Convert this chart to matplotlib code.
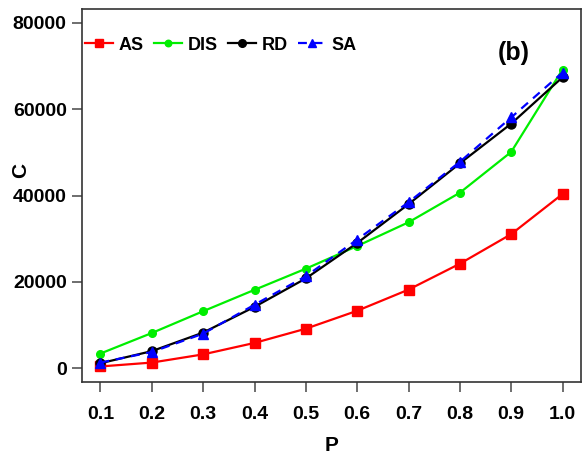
import matplotlib
matplotlib.use("Agg")
import matplotlib.pyplot as plt

P = [0.1, 0.2, 0.3, 0.4, 0.5, 0.6, 0.7, 0.8, 0.9, 1.0]
AS = [400, 1300, 3200, 5850, 9150, 13300, 18200, 24200, 31050, 40350]
DIS = [3400, 8150, 13200, 18150, 23050, 28300, 33800, 40650, 50100, 69200]
RD = [1150, 3950, 8250, 14200, 20800, 29000, 38000, 47450, 56650, 67400]
SA = [1300, 3750, 8000, 14700, 21300, 29800, 38450, 47800, 58100, 68500]
xticks = [0.1, 0.2, 0.3, 0.4, 0.5, 0.6, 0.7, 0.8, 0.9, 1.0]
xticklabels = ["0.1", "0.2", "0.3", "0.4", "0.5", "0.6", "0.7", "0.8", "0.9", "1.0"]
yticks = [0, 20000, 40000, 60000, 80000]

plt.rcParams['font.family'] = ['Liberation Sans', 'DejaVu Sans']
plt.rcParams['font.weight'] = 'bold'

fig = plt.figure(figsize=(5.87, 4.54), dpi=100)
ax = fig.add_axes([0.1397, 0.1586, 0.8501, 0.8214])

ax.plot(P, AS, color='#ff0000', lw=1.6, marker='s', ms=7.5, label='AS')
ax.plot(P, DIS, color='#00ee00', lw=1.6, marker='o', ms=5.5, label='DIS')
ax.plot(P, RD, color='black', lw=1.6, marker='o', ms=6.5, label='RD')
ax.plot(P, SA, color='#0000ff', lw=1.6, ls=(0, (4, 3)), marker='^', ms=7.5, label='SA')

ax.set_xlim(0.064, 1.036)
ax.set_ylim(-3200, 83200)
ax.set_xticks(xticks)
ax.set_xticklabels(xticklabels)
ax.set_yticks(yticks)
ax.tick_params(direction='out', length=7, width=1.2, color='#555555',
               labelsize=14)
ax.tick_params(axis='x', pad=10)
ax.tick_params(axis='y', pad=4)
for lab in ax.get_xticklabels() + ax.get_yticklabels():
    lab.set_fontweight('bold')
for s in ax.spines.values():
    s.set_color('#333333')
    s.set_linewidth(1.2)

ax.set_xlabel('P', fontsize=15, fontweight='bold')
ax.set_ylabel('C', fontsize=15, fontweight='bold')
ax.xaxis.set_label_coords(0.5, -0.169)
ax.yaxis.set_label_coords(-0.124, 0.568)
ax.xaxis.label.set_va('center')
ax.yaxis.label.set_va('center')

ax.text(0.866, 0.882, '(b)', transform=ax.transAxes, fontsize=18,
        fontweight='bold', ha='center', va='center')

leg = ax.legend(loc='center left', ncol=4, frameon=False, fontsize=13,
                bbox_to_anchor=(0.006, 0.903), borderpad=0, borderaxespad=0,
                handlelength=1.55, handletextpad=0.33, columnspacing=0.55,
                markerscale=0.85)
for t in leg.get_texts():
    t.set_fontweight('bold')

fig.savefig('out.png', dpi=100)
